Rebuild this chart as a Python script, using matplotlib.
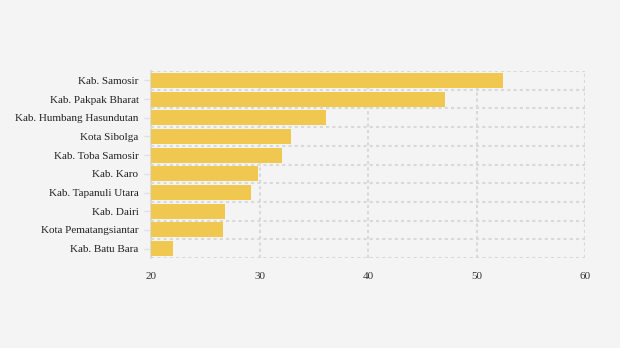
import numpy as np
import matplotlib
matplotlib.use('Agg')
import matplotlib.pyplot as plt

plt.rcParams['font.family'] = 'Liberation Serif'
plt.rcParams['font.size'] = 8

regions = ['Kab. Samosir', 'Kab. Pakpak Bharat', 'Kab. Humbang Hasundutan', 'Kota Sibolga',
           'Kab. Toba Samosir', 'Kab. Karo', 'Kab. Tapanuli Utara', 'Kab. Dairi',
           'Kota Pematangsiantar', 'Kab. Batu Bara']
values = [52.4, 47.1, 36.1, 32.9, 32.1, 29.9, 29.2, 26.8, 26.6, 22.0]
xticks = [20, 30, 40, 50, 60]

bg = '#f4f4f4'
grid_c = '#d9d9d9'

fig = plt.figure(figsize=(6.2, 3.48), dpi=100, facecolor=bg)
ax = fig.add_axes([151/620, 1 - 258/348, (585-151)/620, (258-71)/348], facecolor=bg)

y = np.arange(len(regions))
ax.barh(y, [v - 20 for v in values], left=20, height=0.8, color='#f0c74f', zorder=3)

ax.set_xlim(20, 60)
ax.set_ylim(len(regions) - 0.5, -0.5)
ax.set_xticks(xticks)
ax.set_xticklabels([str(t) for t in xticks])
ax.set_yticks(y)
ax.set_yticklabels(regions)
ax.set_yticks(np.arange(len(regions) + 1) - 0.5, minor=True)

ax.tick_params(axis='x', length=0, pad=10, labelsize=8, colors='#333333')
ax.tick_params(axis='y', which='major', length=5, width=1, color='#e0e0e0', pad=4, labelsize=8, labelcolor='#222222')
ax.tick_params(axis='y', which='minor', length=0)

ax.grid(axis='x', which='major', color=grid_c, linestyle=(0, (1.5, 1.5)), linewidth=1.5, zorder=0)
ax.grid(axis='y', which='minor', color=grid_c, linestyle=(0, (1.5, 1.5)), linewidth=1.5, zorder=0)

for s in ['top', 'right', 'bottom']:
    ax.spines[s].set_visible(False)
ax.spines['left'].set_color('#d8d8d8')
ax.spines['left'].set_linewidth(1.2)

fig.savefig('out.png', dpi=100, facecolor=bg)
